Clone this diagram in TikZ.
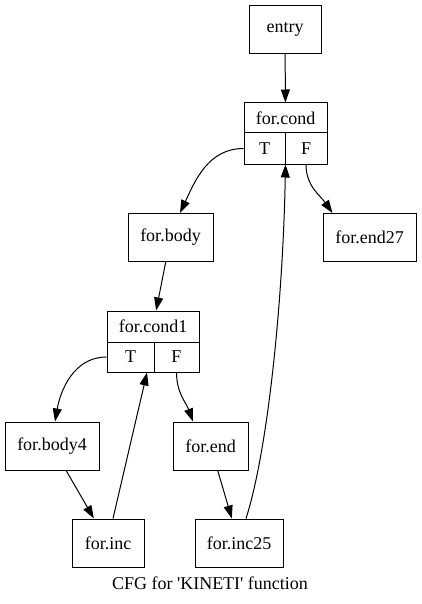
\documentclass[tikz,border=0pt]{standalone}
\usepackage{fontspec}
\setmainfont{Liberation Serif}
\usetikzlibrary{positioning, calc, arrows.meta}

\begin{document}
\begin{tikzpicture}[x=1pt, y=1pt, line width=1pt,
    every node/.style={font=\fontsize{18}{20}\selectfont},
    block/.style={draw, rectangle, inner sep=0pt, minimum height=48pt},
    cell/.style={draw, rectangle, inner sep=0pt, minimum height=31pt},
    >={Triangle[length=13pt, width=9pt]}]
    \useasboundingbox (0,0) rectangle (421,-604);

    \node[block, minimum width=72pt] (entry) at (285,-29.5) {entry};

    \node[cell, minimum width=83pt, minimum height=30pt] (cond) at (285.5,-118) {for.cond};
    \node[cell, minimum width=41pt] (condT) at (264.5,-148.5) {T};
    \node[cell, minimum width=42pt] (condF) at (306,-148.5) {F};

    \node[block, minimum width=85pt] (body) at (170.5,-237.5) {for.body};
    \node[block, minimum width=93pt] (end27) at (369.5,-237.5) {for.end27};

    \node[cell, minimum width=92pt] (cond1) at (153,-326.5) {for.cond1};
    \node[cell, minimum width=47pt, minimum height=30pt] (cond1T) at (130.5,-357) {T};
    \node[cell, minimum width=45pt, minimum height=30pt] (cond1F) at (176.5,-357) {F};

    \node[block, minimum width=94pt] (body4) at (52,-446) {for.body4};
    \node[block, minimum width=75pt] (forend) at (210.5,-446) {for.end};

    \node[block, minimum width=72pt] (inc) at (108,-543) {for.inc};
    \node[block, minimum width=88pt] (inc25) at (239,-543) {for.inc25};

    \node (caption) at (210,-583) {CFG for \textquotesingle KINETI\textquotesingle{} function};

    \draw[->] (entry) -- (cond);
    \draw[->] (condT.west) to[out=180, in=65] ([xshift=9.5pt]body.north);
    \draw[->] (condF.south) to[out=-90, in=125] ([xshift=10pt]end27.north west);
    \draw[->] (body) -- (cond1);
    \draw[->] (cond1T.west) to[out=180, in=80] ([xshift=3pt]body4.north);
    \draw[->] (cond1F.south) to[out=-90, in=110] ([xshift=-17.5pt]forend.north);
    \draw[->] (body4) -- (inc);
    \draw[->] ([xshift=5pt]inc.north) -- ([xshift=16.5pt]cond1T.south);
    \draw[->] (forend) -- (inc25);
    \draw[->] ([xshift=7pt]inc25.north) .. controls (268,-450) and (283,-300) .. (condT.south east);
\end{tikzpicture}
\end{document}
